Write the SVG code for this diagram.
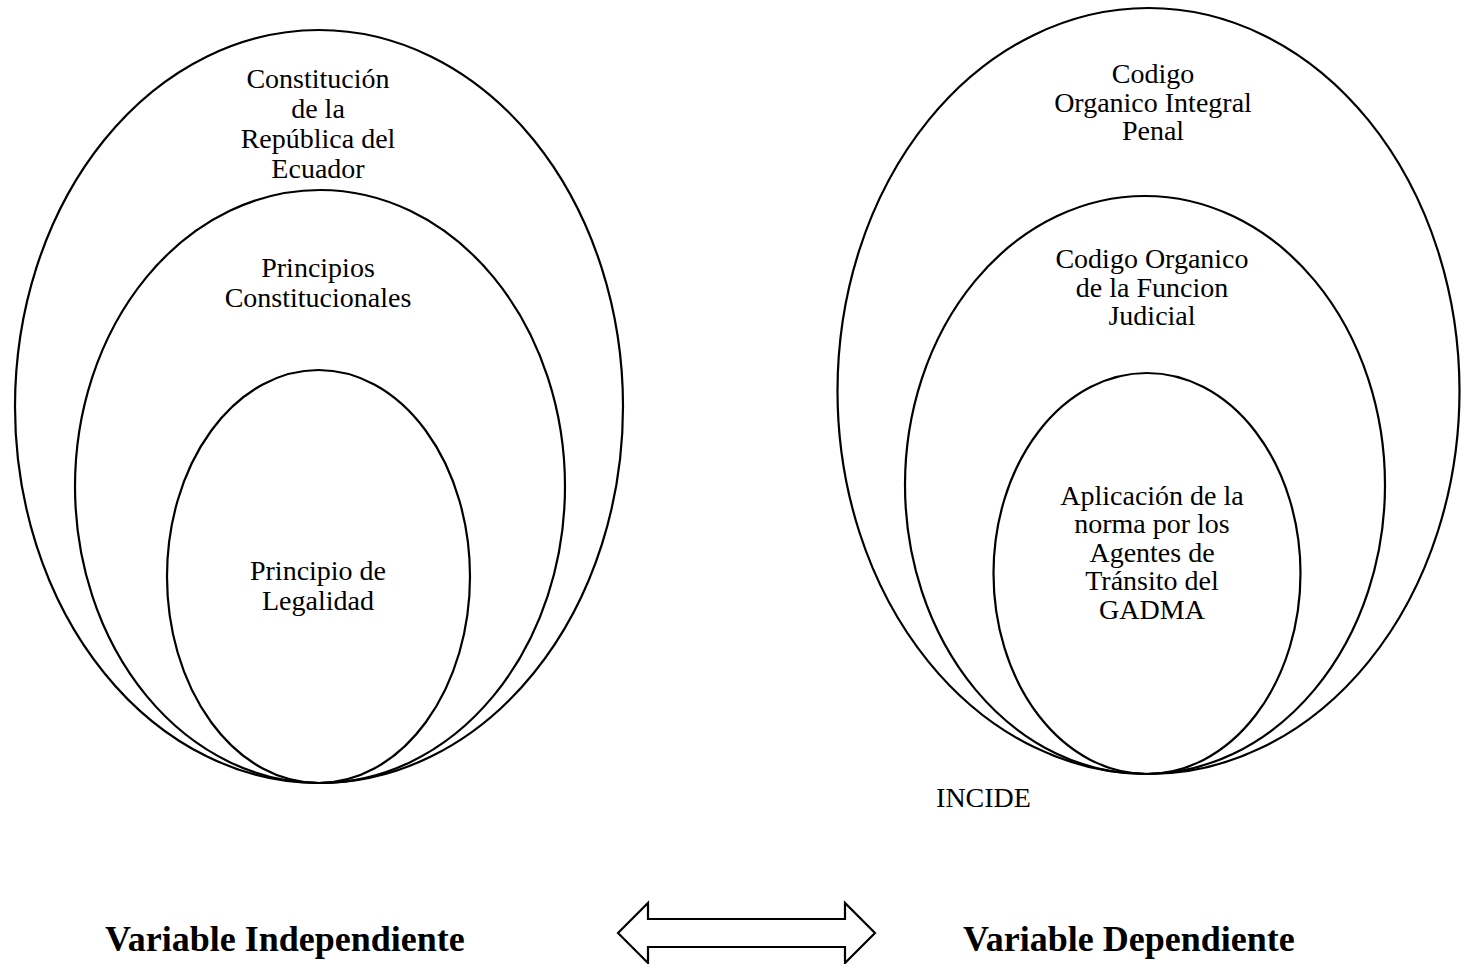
<svg xmlns="http://www.w3.org/2000/svg" width="1461" height="964" viewBox="0 0 1461 964">
<style>
.e{fill:none;stroke:#000;stroke-width:2.2}
.t{font-family:"Liberation Serif","Times New Roman",serif;font-size:28px;fill:#000;text-anchor:middle}
.b{font-family:"Liberation Serif","Times New Roman",serif;font-size:36px;font-weight:bold;fill:#000}
</style>
<rect width="1461" height="964" fill="#fff"/>
<g id="left-outer">
<ellipse class="e" cx="319" cy="406.5" rx="304" ry="376.5"/>
<text class="t" x="318" y="88">Constitución</text>
<text class="t" x="318" y="118">de la</text>
<text class="t" x="318" y="148">República del</text>
<text class="t" x="318" y="178">Ecuador</text>
</g>
<g id="left-middle">
<ellipse class="e" cx="320" cy="486.5" rx="245" ry="296.5"/>
<text class="t" x="318" y="277">Principios</text>
<text class="t" x="318" y="307">Constitucionales</text>
</g>
<g id="left-inner">
<ellipse class="e" cx="318.5" cy="576.5" rx="151.5" ry="206.5"/>
<text class="t" x="318" y="580">Principio de</text>
<text class="t" x="318" y="610">Legalidad</text>
</g>
<g id="right-outer">
<ellipse class="e" cx="1148.5" cy="391" rx="311" ry="383"/>
<text class="t" x="1153" y="83">Codigo</text>
<text class="t" x="1153" y="112">Organico Integral</text>
<text class="t" x="1153" y="140">Penal</text>
</g>
<g id="right-middle">
<ellipse class="e" cx="1145" cy="485" rx="240" ry="289"/>
<text class="t" x="1152" y="268">Codigo Organico</text>
<text class="t" x="1152" y="297">de la Funcion</text>
<text class="t" x="1152" y="325">Judicial</text>
</g>
<g id="right-inner">
<ellipse class="e" cx="1147" cy="573.5" rx="153.5" ry="200.5"/>
<text class="t" x="1152" y="505">Aplicación de la</text>
<text class="t" x="1152" y="533">norma por los</text>
<text class="t" x="1152" y="562">Agentes de</text>
<text class="t" x="1152" y="590">Tránsito del</text>
<text class="t" x="1152" y="619">GADMA</text>
</g>
<g id="incide">
<text class="t" x="983.5" y="807">INCIDE</text>
</g>
<g id="connectors">
<polygon points="618,933 648,903 648,919 845,919 845,903 875,933 845,963 845,947 648,947 648,963" fill="#fff" stroke="#000" stroke-width="2.2" stroke-linejoin="miter"/>
</g>
<g id="label-independiente">
<text class="b" x="105" y="951">Variable Independiente</text>
</g>
<g id="label-dependiente">
<text class="b" x="963" y="951">Variable Dependiente</text>
</g>
</svg>
